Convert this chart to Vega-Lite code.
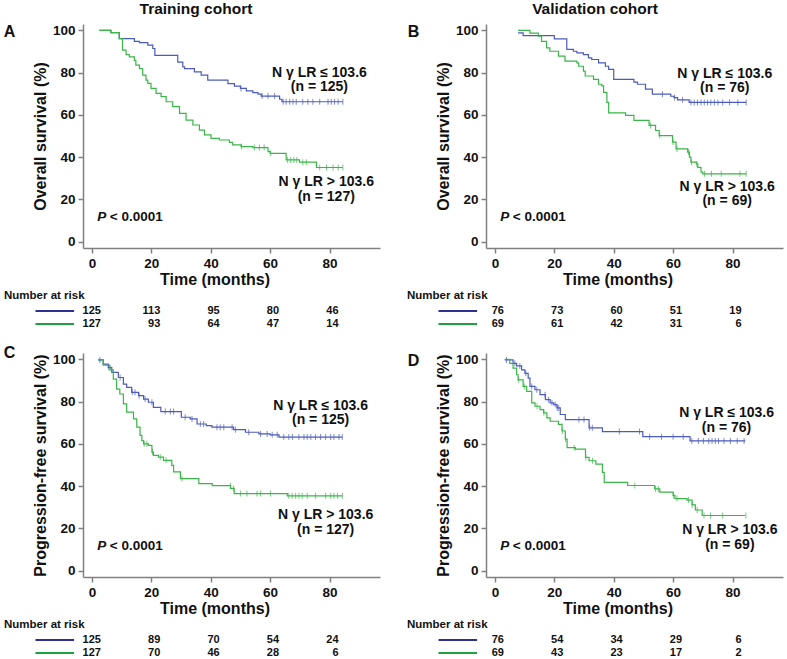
{
"$schema": "https://vega.github.io/schema/vega-lite/v6.json",
"padding": {"left": 3, "top": 1, "right": 5, "bottom": 2},
"background": "white",
"config": {
  "view": {"stroke": null},
  "font": "Liberation Sans",
  "axis": {"grid": false, "domainColor": "#808080", "tickColor": "#808080", "domainWidth": 1.5, "tickWidth": 1.5, "tickSize": 5, "labelFont": "Liberation Sans", "labelFontSize": 13.5, "labelFontWeight": "bold", "labelColor": "#111111", "labelPadding": 3, "titleFont": "Liberation Sans", "titleFontSize": 16, "titleFontWeight": "bold", "titleColor": "#111111", "titlePadding": 4},
  "text": {"font": "Liberation Sans", "fontWeight": "bold", "color": "#111111"},
  "title": {"font": "Liberation Sans", "fontWeight": "bold", "color": "#111111"}
},
"datasets": {
"curves": [
{"p":"A","g":"low","t":2.5,"s":100},{"p":"A","g":"low","t":6.4,"s":98.9},{"p":"A","g":"low","t":9.2,"s":96.1},{"p":"A","g":"low","t":14.3,"s":94.8},{"p":"A","g":"low","t":16,"s":94.2},{"p":"A","g":"low","t":18.8,"s":93},{"p":"A","g":"low","t":20.5,"s":91.4},{"p":"A","g":"low","t":21.2,"s":88.2},{"p":"A","g":"low","t":28.9,"s":85},{"p":"A","g":"low","t":30.6,"s":82.7},{"p":"A","g":"low","t":31.2,"s":81.9},{"p":"A","g":"low","t":34.5,"s":80.3},{"p":"A","g":"low","t":36.8,"s":78.8},{"p":"A","g":"low","t":39,"s":76.4},{"p":"A","g":"low","t":45.8,"s":74.8},{"p":"A","g":"low","t":48,"s":73.6},{"p":"A","g":"low","t":50,"s":72.5},{"p":"A","g":"low","t":52,"s":71.4},{"p":"A","g":"low","t":54.2,"s":70.5},{"p":"A","g":"low","t":55.9,"s":69.8},{"p":"A","g":"low","t":57,"s":68.9},{"p":"A","g":"low","t":63.2,"s":67.4},{"p":"A","g":"low","t":64,"s":66.2},{"p":"A","g":"low","t":84.5,"s":66.2},
{"p":"A","g":"high","t":2.5,"s":100},{"p":"A","g":"high","t":6.4,"s":98.9},{"p":"A","g":"high","t":9.2,"s":96.1},{"p":"A","g":"high","t":10.3,"s":90.6},{"p":"A","g":"high","t":11.5,"s":88.5},{"p":"A","g":"high","t":12.6,"s":87.4},{"p":"A","g":"high","t":14.3,"s":85.8},{"p":"A","g":"high","t":14.8,"s":83.5},{"p":"A","g":"high","t":16,"s":81.9},{"p":"A","g":"high","t":17.1,"s":78.8},{"p":"A","g":"high","t":18.2,"s":76.4},{"p":"A","g":"high","t":18.8,"s":74.9},{"p":"A","g":"high","t":19.9,"s":72.5},{"p":"A","g":"high","t":21.6,"s":70.2},{"p":"A","g":"high","t":23.3,"s":68.6},{"p":"A","g":"high","t":25,"s":66.2},{"p":"A","g":"high","t":27.2,"s":63.9},{"p":"A","g":"high","t":29.5,"s":60.7},{"p":"A","g":"high","t":31.7,"s":57.5},{"p":"A","g":"high","t":34,"s":55.2},{"p":"A","g":"high","t":36.2,"s":52.8},{"p":"A","g":"high","t":37.9,"s":50.5},{"p":"A","g":"high","t":40.1,"s":48.9},{"p":"A","g":"high","t":42.9,"s":48.1},{"p":"A","g":"high","t":46.3,"s":47},{"p":"A","g":"high","t":47.4,"s":45.8},{"p":"A","g":"high","t":50.2,"s":45},{"p":"A","g":"high","t":54.2,"s":44.5},{"p":"A","g":"high","t":59.3,"s":42.6},{"p":"A","g":"high","t":60,"s":41.8},{"p":"A","g":"high","t":65.4,"s":38.7},{"p":"A","g":"high","t":69.9,"s":37.6},{"p":"A","g":"high","t":75.6,"s":35.1},{"p":"A","g":"high","t":84.5,"s":35.1},
{"p":"B","g":"low","t":7.8,"s":98.8},{"p":"B","g":"low","t":9.5,"s":97.5},{"p":"B","g":"low","t":20,"s":96},{"p":"B","g":"low","t":24.2,"s":91},{"p":"B","g":"low","t":26.4,"s":90.1},{"p":"B","g":"low","t":27.6,"s":89.3},{"p":"B","g":"low","t":29.8,"s":88.5},{"p":"B","g":"low","t":31.5,"s":87},{"p":"B","g":"low","t":32.6,"s":86.2},{"p":"B","g":"low","t":34.9,"s":84.6},{"p":"B","g":"low","t":37.2,"s":83},{"p":"B","g":"low","t":38.3,"s":81.5},{"p":"B","g":"low","t":40,"s":76.8},{"p":"B","g":"low","t":46.8,"s":75.5},{"p":"B","g":"low","t":48,"s":74.5},{"p":"B","g":"low","t":50.7,"s":72.2},{"p":"B","g":"low","t":53,"s":69.8},{"p":"B","g":"low","t":59.2,"s":68.8},{"p":"B","g":"low","t":60.3,"s":68.2},{"p":"B","g":"low","t":61.5,"s":67.1},{"p":"B","g":"low","t":65.4,"s":65.9},{"p":"B","g":"low","t":84.6,"s":65.9},
{"p":"B","g":"high","t":7.8,"s":100},{"p":"B","g":"high","t":11.8,"s":98.7},{"p":"B","g":"high","t":14.6,"s":97.2},{"p":"B","g":"high","t":15.7,"s":94.8},{"p":"B","g":"high","t":17.4,"s":91.7},{"p":"B","g":"high","t":18.5,"s":90.1},{"p":"B","g":"high","t":21.4,"s":87.8},{"p":"B","g":"high","t":23.6,"s":85.4},{"p":"B","g":"high","t":27.6,"s":84.6},{"p":"B","g":"high","t":28.2,"s":83},{"p":"B","g":"high","t":29.8,"s":80.7},{"p":"B","g":"high","t":30.4,"s":78.4},{"p":"B","g":"high","t":33.2,"s":76.8},{"p":"B","g":"high","t":34.9,"s":74.5},{"p":"B","g":"high","t":36,"s":73.7},{"p":"B","g":"high","t":36.6,"s":70.6},{"p":"B","g":"high","t":37.7,"s":65.9},{"p":"B","g":"high","t":38.3,"s":60.9},{"p":"B","g":"high","t":44,"s":59.8},{"p":"B","g":"high","t":46.8,"s":57.4},{"p":"B","g":"high","t":51.9,"s":55},{"p":"B","g":"high","t":54.1,"s":52.6},{"p":"B","g":"high","t":55.3,"s":50.2},{"p":"B","g":"high","t":59.8,"s":47.1},{"p":"B","g":"high","t":61,"s":43.9},{"p":"B","g":"high","t":64.9,"s":42.4},{"p":"B","g":"high","t":65.5,"s":40},{"p":"B","g":"high","t":66,"s":37.6},{"p":"B","g":"high","t":67.8,"s":36.8},{"p":"B","g":"high","t":68.3,"s":35.2},{"p":"B","g":"high","t":69.4,"s":32.9},{"p":"B","g":"high","t":70,"s":32.1},{"p":"B","g":"high","t":84.6,"s":32.1},
{"p":"C","g":"low","t":2.1,"s":99.7},{"p":"C","g":"low","t":3.8,"s":97.7},{"p":"C","g":"low","t":5.5,"s":96.1},{"p":"C","g":"low","t":6.7,"s":93.8},{"p":"C","g":"low","t":8.9,"s":91.4},{"p":"C","g":"low","t":10.6,"s":88.3},{"p":"C","g":"low","t":11.7,"s":86.7},{"p":"C","g":"low","t":13.4,"s":84.4},{"p":"C","g":"low","t":15.7,"s":82.8},{"p":"C","g":"low","t":17.4,"s":81.2},{"p":"C","g":"low","t":19,"s":79.7},{"p":"C","g":"low","t":20.7,"s":77.3},{"p":"C","g":"low","t":23.2,"s":75.3},{"p":"C","g":"low","t":30.1,"s":72.6},{"p":"C","g":"low","t":33.1,"s":71.8},{"p":"C","g":"low","t":35.4,"s":69.4},{"p":"C","g":"low","t":38.5,"s":68.6},{"p":"C","g":"low","t":40.4,"s":67.9},{"p":"C","g":"low","t":47.7,"s":66.7},{"p":"C","g":"low","t":51.7,"s":65.5},{"p":"C","g":"low","t":56.2,"s":64.7},{"p":"C","g":"low","t":60,"s":64.3},{"p":"C","g":"low","t":63,"s":63.2},{"p":"C","g":"low","t":84.3,"s":63.2},
{"p":"C","g":"high","t":2.1,"s":99.7},{"p":"C","g":"high","t":3.8,"s":97.2},{"p":"C","g":"high","t":6.1,"s":95},{"p":"C","g":"high","t":7.2,"s":90.6},{"p":"C","g":"high","t":8.3,"s":85.9},{"p":"C","g":"high","t":9.4,"s":83.6},{"p":"C","g":"high","t":10.6,"s":78.9},{"p":"C","g":"high","t":11.7,"s":75},{"p":"C","g":"high","t":14,"s":71.8},{"p":"C","g":"high","t":15.1,"s":67.9},{"p":"C","g":"high","t":16.2,"s":64},{"p":"C","g":"high","t":16.8,"s":61.6},{"p":"C","g":"high","t":17.4,"s":60},{"p":"C","g":"high","t":19,"s":59.3},{"p":"C","g":"high","t":20.2,"s":56.1},{"p":"C","g":"high","t":20.7,"s":54.6},{"p":"C","g":"high","t":22.4,"s":53.7},{"p":"C","g":"high","t":24.1,"s":52.2},{"p":"C","g":"high","t":26.9,"s":49.8},{"p":"C","g":"high","t":27.5,"s":46.7},{"p":"C","g":"high","t":29.8,"s":43.6},{"p":"C","g":"high","t":36,"s":41.2},{"p":"C","g":"high","t":40.5,"s":40.2},{"p":"C","g":"high","t":46.7,"s":38.9},{"p":"C","g":"high","t":47.9,"s":36.5},{"p":"C","g":"high","t":65.8,"s":35.4},{"p":"C","g":"high","t":84.3,"s":35.4},
{"p":"D","g":"low","t":3.3,"s":99.7},{"p":"D","g":"low","t":6.1,"s":98.1},{"p":"D","g":"low","t":7.3,"s":96.9},{"p":"D","g":"low","t":9,"s":95},{"p":"D","g":"low","t":10.1,"s":93.4},{"p":"D","g":"low","t":11.2,"s":91.1},{"p":"D","g":"low","t":11.8,"s":87.2},{"p":"D","g":"low","t":13.5,"s":85.6},{"p":"D","g":"low","t":15.2,"s":83.3},{"p":"D","g":"low","t":17,"s":80.9},{"p":"D","g":"low","t":18.6,"s":79.4},{"p":"D","g":"low","t":19.8,"s":78.6},{"p":"D","g":"low","t":20.9,"s":77},{"p":"D","g":"low","t":22,"s":73.9},{"p":"D","g":"low","t":23.7,"s":71.5},{"p":"D","g":"low","t":31.7,"s":67.6},{"p":"D","g":"low","t":36.2,"s":65.8},{"p":"D","g":"low","t":49.8,"s":63.4},{"p":"D","g":"low","t":65.7,"s":61.4},{"p":"D","g":"low","t":84.3,"s":61.4},
{"p":"D","g":"high","t":3.3,"s":100},{"p":"D","g":"high","t":5,"s":98.1},{"p":"D","g":"high","t":6.1,"s":95.8},{"p":"D","g":"high","t":7.3,"s":92.7},{"p":"D","g":"high","t":7.8,"s":90.3},{"p":"D","g":"high","t":9.5,"s":87.2},{"p":"D","g":"high","t":10.7,"s":84.8},{"p":"D","g":"high","t":12.4,"s":79.4},{"p":"D","g":"high","t":13.5,"s":77.8},{"p":"D","g":"high","t":15.2,"s":76.2},{"p":"D","g":"high","t":16.4,"s":74.7},{"p":"D","g":"high","t":17.5,"s":72.3},{"p":"D","g":"high","t":18.6,"s":70.7},{"p":"D","g":"high","t":21.4,"s":69.2},{"p":"D","g":"high","t":22.6,"s":66.1},{"p":"D","g":"high","t":23.7,"s":62.2},{"p":"D","g":"high","t":24.3,"s":58.2},{"p":"D","g":"high","t":27.1,"s":57.5},{"p":"D","g":"high","t":30.5,"s":53.6},{"p":"D","g":"high","t":31.7,"s":52},{"p":"D","g":"high","t":34,"s":50.4},{"p":"D","g":"high","t":36.2,"s":46.5},{"p":"D","g":"high","t":36.8,"s":41.8},{"p":"D","g":"high","t":44.7,"s":40.3},{"p":"D","g":"high","t":53.8,"s":38.7},{"p":"D","g":"high","t":55.5,"s":37.2},{"p":"D","g":"high","t":60,"s":35.6},{"p":"D","g":"high","t":60.6,"s":34.1},{"p":"D","g":"high","t":64.7,"s":33.4},{"p":"D","g":"high","t":66.4,"s":31.1},{"p":"D","g":"high","t":67.5,"s":28.7},{"p":"D","g":"high","t":69.8,"s":26.1},{"p":"D","g":"high","t":84.3,"s":26.1}
],
"censor": [
{"p":"A","g":"low","t":50.2,"s":72.5},{"p":"A","g":"low","t":57.3,"s":68.9},{"p":"A","g":"low","t":59.3,"s":68.9},{"p":"A","g":"low","t":61.5,"s":68.9},{"p":"A","g":"low","t":64.4,"s":66.2},{"p":"A","g":"low","t":65.4,"s":66.2},{"p":"A","g":"low","t":66.6,"s":66.2},{"p":"A","g":"low","t":67.7,"s":66.2},{"p":"A","g":"low","t":68.8,"s":66.2},{"p":"A","g":"low","t":71,"s":66.2},{"p":"A","g":"low","t":72.7,"s":66.2},{"p":"A","g":"low","t":74.4,"s":66.2},{"p":"A","g":"low","t":76.7,"s":66.2},{"p":"A","g":"low","t":79.5,"s":66.2},{"p":"A","g":"low","t":80.6,"s":66.2},{"p":"A","g":"low","t":81.7,"s":66.2},{"p":"A","g":"low","t":82.9,"s":66.2},{"p":"A","g":"low","t":84.5,"s":66.2},
{"p":"A","g":"high","t":50.4,"s":45},{"p":"A","g":"high","t":54.7,"s":44.5},{"p":"A","g":"high","t":56.4,"s":44.5},{"p":"A","g":"high","t":58,"s":44.5},{"p":"A","g":"high","t":60.2,"s":41.8},{"p":"A","g":"high","t":65.9,"s":38.7},{"p":"A","g":"high","t":66.9,"s":38.7},{"p":"A","g":"high","t":68,"s":38.7},{"p":"A","g":"high","t":69,"s":38.7},{"p":"A","g":"high","t":71,"s":37.6},{"p":"A","g":"high","t":72.2,"s":37.6},{"p":"A","g":"high","t":76.7,"s":35.1},{"p":"A","g":"high","t":79,"s":35.1},{"p":"A","g":"high","t":81.2,"s":35.1},{"p":"A","g":"high","t":82.9,"s":35.1},{"p":"A","g":"high","t":84.5,"s":35.1},
{"p":"B","g":"low","t":56.4,"s":69.8},{"p":"B","g":"low","t":60.5,"s":68.2},{"p":"B","g":"low","t":63.2,"s":67.1},{"p":"B","g":"low","t":66,"s":65.9},{"p":"B","g":"low","t":67.1,"s":65.9},{"p":"B","g":"low","t":68.2,"s":65.9},{"p":"B","g":"low","t":69.4,"s":65.9},{"p":"B","g":"low","t":70.5,"s":65.9},{"p":"B","g":"low","t":71.6,"s":65.9},{"p":"B","g":"low","t":72.7,"s":65.9},{"p":"B","g":"low","t":73.9,"s":65.9},{"p":"B","g":"low","t":75.1,"s":65.9},{"p":"B","g":"low","t":76.7,"s":65.9},{"p":"B","g":"low","t":79,"s":65.9},{"p":"B","g":"low","t":81.8,"s":65.9},{"p":"B","g":"low","t":84.6,"s":65.9},
{"p":"B","g":"high","t":52.4,"s":55},{"p":"B","g":"high","t":55.5,"s":50.2},{"p":"B","g":"high","t":60,"s":47.1},{"p":"B","g":"high","t":61.3,"s":43.9},{"p":"B","g":"high","t":65.2,"s":42.4},{"p":"B","g":"high","t":66.2,"s":37.6},{"p":"B","g":"high","t":68,"s":36.8},{"p":"B","g":"high","t":70.6,"s":32.1},{"p":"B","g":"high","t":72.9,"s":32.1},{"p":"B","g":"high","t":76.2,"s":32.1},{"p":"B","g":"high","t":82.5,"s":32.1},{"p":"B","g":"high","t":84.6,"s":32.1},
{"p":"C","g":"low","t":2.7,"s":99.7},{"p":"C","g":"low","t":5.7,"s":96.1},{"p":"C","g":"low","t":9.5,"s":91.4},{"p":"C","g":"low","t":13.6,"s":84.4},{"p":"C","g":"low","t":14.5,"s":84.4},{"p":"C","g":"low","t":15.9,"s":82.8},{"p":"C","g":"low","t":17.9,"s":81.2},{"p":"C","g":"low","t":20.2,"s":79.7},{"p":"C","g":"low","t":24.7,"s":75.3},{"p":"C","g":"low","t":26.4,"s":75.3},{"p":"C","g":"low","t":27.5,"s":75.3},{"p":"C","g":"low","t":31.4,"s":72.6},{"p":"C","g":"low","t":33.7,"s":71.8},{"p":"C","g":"low","t":36.5,"s":69.4},{"p":"C","g":"low","t":37.6,"s":69.4},{"p":"C","g":"low","t":42.1,"s":67.9},{"p":"C","g":"low","t":43.2,"s":67.9},{"p":"C","g":"low","t":44.4,"s":67.9},{"p":"C","g":"low","t":47.2,"s":67.9},{"p":"C","g":"low","t":48.3,"s":66.7},{"p":"C","g":"low","t":52.8,"s":65.5},{"p":"C","g":"low","t":56.8,"s":64.7},{"p":"C","g":"low","t":59,"s":64.7},{"p":"C","g":"low","t":60.7,"s":64.3},{"p":"C","g":"low","t":62.4,"s":64.3},{"p":"C","g":"low","t":64.6,"s":63.2},{"p":"C","g":"low","t":66.3,"s":63.2},{"p":"C","g":"low","t":67.5,"s":63.2},{"p":"C","g":"low","t":69.7,"s":63.2},{"p":"C","g":"low","t":71.4,"s":63.2},{"p":"C","g":"low","t":72.5,"s":63.2},{"p":"C","g":"low","t":73.7,"s":63.2},{"p":"C","g":"low","t":75.3,"s":63.2},{"p":"C","g":"low","t":77,"s":63.2},{"p":"C","g":"low","t":78.7,"s":63.2},{"p":"C","g":"low","t":80.4,"s":63.2},{"p":"C","g":"low","t":81.5,"s":63.2},{"p":"C","g":"low","t":83.2,"s":63.2},{"p":"C","g":"low","t":84.3,"s":63.2},
{"p":"C","g":"high","t":17.6,"s":60},{"p":"C","g":"high","t":18.5,"s":60},{"p":"C","g":"high","t":20.4,"s":56.1},{"p":"C","g":"high","t":23,"s":53.7},{"p":"C","g":"high","t":25,"s":52.2},{"p":"C","g":"high","t":30.3,"s":43.6},{"p":"C","g":"high","t":46.6,"s":40.2},{"p":"C","g":"high","t":47.7,"s":38.9},{"p":"C","g":"high","t":50,"s":36.5},{"p":"C","g":"high","t":52.2,"s":36.5},{"p":"C","g":"high","t":55.6,"s":36.5},{"p":"C","g":"high","t":56.8,"s":36.5},{"p":"C","g":"high","t":60.1,"s":36.5},{"p":"C","g":"high","t":66.3,"s":35.4},{"p":"C","g":"high","t":67.4,"s":35.4},{"p":"C","g":"high","t":68.6,"s":35.4},{"p":"C","g":"high","t":69.7,"s":35.4},{"p":"C","g":"high","t":70.8,"s":35.4},{"p":"C","g":"high","t":72.5,"s":35.4},{"p":"C","g":"high","t":75.3,"s":35.4},{"p":"C","g":"high","t":78.7,"s":35.4},{"p":"C","g":"high","t":80.4,"s":35.4},{"p":"C","g":"high","t":81.5,"s":35.4},{"p":"C","g":"high","t":82.7,"s":35.4},{"p":"C","g":"high","t":84.3,"s":35.4},
{"p":"D","g":"low","t":3.9,"s":99.7},{"p":"D","g":"low","t":6.7,"s":98.1},{"p":"D","g":"low","t":8.4,"s":96.9},{"p":"D","g":"low","t":10.4,"s":93.4},{"p":"D","g":"low","t":12.4,"s":87.2},{"p":"D","g":"low","t":14.1,"s":85.6},{"p":"D","g":"low","t":16.9,"s":83.3},{"p":"D","g":"low","t":18,"s":80.9},{"p":"D","g":"low","t":19.2,"s":79.4},{"p":"D","g":"low","t":20.3,"s":78.6},{"p":"D","g":"low","t":21,"s":77},{"p":"D","g":"low","t":21.5,"s":77},{"p":"D","g":"low","t":28.3,"s":71.5},{"p":"D","g":"low","t":30,"s":71.5},{"p":"D","g":"low","t":31.9,"s":67.6},{"p":"D","g":"low","t":32.8,"s":67.6},{"p":"D","g":"low","t":41.9,"s":65.8},{"p":"D","g":"low","t":48.7,"s":65.8},{"p":"D","g":"low","t":52.1,"s":63.4},{"p":"D","g":"low","t":56.1,"s":63.4},{"p":"D","g":"low","t":60,"s":63.4},{"p":"D","g":"low","t":63.4,"s":63.4},{"p":"D","g":"low","t":66.3,"s":61.4},{"p":"D","g":"low","t":68.5,"s":61.4},{"p":"D","g":"low","t":70.2,"s":61.4},{"p":"D","g":"low","t":72,"s":61.4},{"p":"D","g":"low","t":73.1,"s":61.4},{"p":"D","g":"low","t":74.2,"s":61.4},{"p":"D","g":"low","t":75.3,"s":61.4},{"p":"D","g":"low","t":77.1,"s":61.4},{"p":"D","g":"low","t":79.3,"s":61.4},{"p":"D","g":"low","t":81.6,"s":61.4},{"p":"D","g":"low","t":83.9,"s":61.4},
{"p":"D","g":"high","t":8,"s":90.3},{"p":"D","g":"high","t":9.9,"s":87.2},{"p":"D","g":"high","t":14.2,"s":77.8},{"p":"D","g":"high","t":16.5,"s":74.7},{"p":"D","g":"high","t":22.7,"s":66.1},{"p":"D","g":"high","t":23.8,"s":62.2},{"p":"D","g":"high","t":26.7,"s":58.2},{"p":"D","g":"high","t":30.6,"s":53.6},{"p":"D","g":"high","t":32.9,"s":52},{"p":"D","g":"high","t":47.1,"s":40.3},{"p":"D","g":"high","t":54.1,"s":38.7},{"p":"D","g":"high","t":55,"s":38.7},{"p":"D","g":"high","t":60.1,"s":35.6},{"p":"D","g":"high","t":61.3,"s":34.1},{"p":"D","g":"high","t":65.2,"s":33.4},{"p":"D","g":"high","t":66.4,"s":31.1},{"p":"D","g":"high","t":68.1,"s":28.7},{"p":"D","g":"high","t":70.4,"s":26.1},{"p":"D","g":"high","t":72.6,"s":26.1},{"p":"D","g":"high","t":76.6,"s":26.1},{"p":"D","g":"high","t":84.5,"s":26.1}
],
"risk": [
{"p":"A","g":"low","t":0,"n":125},{"p":"A","g":"low","t":20,"n":113},{"p":"A","g":"low","t":40,"n":95},{"p":"A","g":"low","t":60,"n":80},{"p":"A","g":"low","t":80,"n":46},
{"p":"A","g":"high","t":0,"n":127},{"p":"A","g":"high","t":20,"n":93},{"p":"A","g":"high","t":40,"n":64},{"p":"A","g":"high","t":60,"n":47},{"p":"A","g":"high","t":80,"n":14},
{"p":"B","g":"low","t":0,"n":76},{"p":"B","g":"low","t":20,"n":73},{"p":"B","g":"low","t":40,"n":60},{"p":"B","g":"low","t":60,"n":51},{"p":"B","g":"low","t":80,"n":19},
{"p":"B","g":"high","t":0,"n":69},{"p":"B","g":"high","t":20,"n":61},{"p":"B","g":"high","t":40,"n":42},{"p":"B","g":"high","t":60,"n":31},{"p":"B","g":"high","t":80,"n":6},
{"p":"C","g":"low","t":0,"n":125},{"p":"C","g":"low","t":20,"n":89},{"p":"C","g":"low","t":40,"n":70},{"p":"C","g":"low","t":60,"n":54},{"p":"C","g":"low","t":80,"n":24},
{"p":"C","g":"high","t":0,"n":127},{"p":"C","g":"high","t":20,"n":70},{"p":"C","g":"high","t":40,"n":46},{"p":"C","g":"high","t":60,"n":28},{"p":"C","g":"high","t":80,"n":6},
{"p":"D","g":"low","t":0,"n":76},{"p":"D","g":"low","t":20,"n":54},{"p":"D","g":"low","t":40,"n":34},{"p":"D","g":"low","t":60,"n":29},{"p":"D","g":"low","t":80,"n":6},
{"p":"D","g":"high","t":0,"n":69},{"p":"D","g":"high","t":20,"n":43},{"p":"D","g":"high","t":40,"n":23},{"p":"D","g":"high","t":60,"n":17},{"p":"D","g":"high","t":80,"n":2}
]
},
"spacing": 14,
"vconcat": [
{"hconcat": [
 {"title": {"text": "Training cohort", "fontSize": 15.5, "offset": 6, "anchor": "middle", "dx": 4},
  "bounds": "flush", "spacing": 56.5,
  "resolve": {"scale": {"color": "independent"}},
  "vconcat": [
   {"width": 297, "height": 224,
    "layer": [
     {"data": {"name": "curves"}, "transform": [{"filter": "datum.p == 'A'"}],
      "mark": {"type": "line", "interpolate": "step-after", "strokeWidth": 1.2},
      "encoding": {
       "x": {"field": "t", "type": "quantitative", "scale": {"domain": [-3, 97], "nice": false, "zero": false}, "axis": {"values": [0, 20, 40, 60, 80], "title": "Time (months)", "titleX": 131.5, "titleY": 23}},
       "y": {"field": "s", "type": "quantitative", "scale": {"domain": [-3, 103], "nice": false, "zero": false}, "axis": {"values": [0, 20, 40, 60, 80, 100], "title": "Overall survival (%)"}},
       "color": {"field": "g", "type": "nominal", "scale": {"domain": ["low", "high"], "range": ["#4b5bbd", "#3bb54a"]}, "legend": null}}},
     {"data": {"name": "censor"}, "transform": [{"filter": "datum.p == 'A'"}],
      "mark": {"type": "tick", "orient": "vertical", "size": 6, "thickness": 1},
      "encoding": {"x": {"field": "t", "type": "quantitative"}, "y": {"field": "s", "type": "quantitative"}, "color": {"field": "g", "type": "nominal", "legend": null}}},
     {"data": {"values": [{}]}, "mark": {"type": "text", "text": "A", "fontSize": 16, "align": "center", "baseline": "middle"},
      "encoding": {"x": {"datum": -27.7, "type": "quantitative"}, "y": {"datum": 99, "type": "quantitative"}}},
     {"data": {"values": [{}]}, "mark": {"type": "text", "text": ["N γ LR ≤ 103.6", "(n = 125)"], "fontSize": 14, "lineHeight": 14.5, "align": "center", "baseline": "middle"},
      "encoding": {"x": {"datum": 76.6, "type": "quantitative"}, "y": {"datum": 79.9, "type": "quantitative"}}},
     {"data": {"values": [{}]}, "mark": {"type": "text", "text": ["N γ LR > 103.6", "(n = 127)"], "fontSize": 14, "lineHeight": 14.5, "align": "center", "baseline": "middle"},
      "encoding": {"x": {"datum": 78.9, "type": "quantitative"}, "y": {"datum": 28, "type": "quantitative"}}},
     {"data": {"values": [{}]}, "mark": {"type": "text", "text": "P", "fontStyle": "italic", "fontSize": 13.5, "align": "left", "baseline": "middle"},
      "encoding": {"x": {"datum": 1.8, "type": "quantitative"}, "y": {"datum": 11.8, "type": "quantitative"}}},
     {"data": {"values": [{}]}, "mark": {"type": "text", "text": "< 0.0001", "fontSize": 13.5, "align": "left", "baseline": "middle", "dx": 12.5},
      "encoding": {"x": {"datum": 1.8, "type": "quantitative"}, "y": {"datum": 11.8, "type": "quantitative"}}}
    ]},
   {"width": 297, "height": 26,
    "title": {"text": "Number at risk", "anchor": "start", "frame": "group", "dx": -79, "dy": 11, "fontSize": 11.5, "offset": 5, "baseline": "alphabetic"},
    "data": {"name": "risk"}, "transform": [{"filter": "datum.p == 'A'"}],
    "layer": [
     {"mark": {"type": "text", "align": "right", "dx": 9, "fontSize": 11, "baseline": "middle"},
      "encoding": {"x": {"field": "t", "type": "quantitative", "scale": {"domain": [-3, 97], "nice": false, "zero": false}, "axis": null},
       "y": {"field": "g", "type": "nominal", "scale": {"type": "point", "domain": ["low", "high"], "padding": 0.5}, "axis": null},
       "text": {"field": "n", "type": "nominal"}}},
     {"transform": [{"filter": "datum.t == 0"}], "mark": {"type": "rule", "strokeWidth": 2},
      "encoding": {"x": {"datum": -19, "type": "quantitative"}, "x2": {"datum": -6}, "y": {"field": "g", "type": "nominal"},
       "color": {"field": "g", "type": "nominal", "scale": {"domain": ["low", "high"], "range": ["#2e3192", "#20a040"]}, "legend": null}}}
    ]}
  ]},
 {"title": {"text": "Validation cohort", "fontSize": 15.5, "offset": 6, "anchor": "middle"},
  "bounds": "flush", "spacing": 56.5,
  "resolve": {"scale": {"color": "independent"}},
  "vconcat": [
   {"width": 297, "height": 224,
    "layer": [
     {"data": {"name": "curves"}, "transform": [{"filter": "datum.p == 'B'"}],
      "mark": {"type": "line", "interpolate": "step-after", "strokeWidth": 1.2},
      "encoding": {
       "x": {"field": "t", "type": "quantitative", "scale": {"domain": [-3, 97], "nice": false, "zero": false}, "axis": {"values": [0, 20, 40, 60, 80], "title": "Time (months)", "titleX": 131.5, "titleY": 23}},
       "y": {"field": "s", "type": "quantitative", "scale": {"domain": [-3, 103], "nice": false, "zero": false}, "axis": {"values": [0, 20, 40, 60, 80, 100], "title": "Overall survival (%)"}},
       "color": {"field": "g", "type": "nominal", "scale": {"domain": ["low", "high"], "range": ["#4b5bbd", "#3bb54a"]}, "legend": null}}},
     {"data": {"name": "censor"}, "transform": [{"filter": "datum.p == 'B'"}],
      "mark": {"type": "tick", "orient": "vertical", "size": 6, "thickness": 1},
      "encoding": {"x": {"field": "t", "type": "quantitative"}, "y": {"field": "s", "type": "quantitative"}, "color": {"field": "g", "type": "nominal", "legend": null}}},
     {"data": {"values": [{}]}, "mark": {"type": "text", "text": "B", "fontSize": 16, "align": "center", "baseline": "middle"},
      "encoding": {"x": {"datum": -27.4, "type": "quantitative"}, "y": {"datum": 99, "type": "quantitative"}}},
     {"data": {"values": [{}]}, "mark": {"type": "text", "text": ["N γ LR ≤ 103.6", "(n = 76)"], "fontSize": 14, "lineHeight": 14.5, "align": "center", "baseline": "middle"},
      "encoding": {"x": {"datum": 77.4, "type": "quantitative"}, "y": {"datum": 79.5, "type": "quantitative"}}},
     {"data": {"values": [{}]}, "mark": {"type": "text", "text": ["N γ LR > 103.6", "(n = 69)"], "fontSize": 14, "lineHeight": 14.5, "align": "center", "baseline": "middle"},
      "encoding": {"x": {"datum": 78.2, "type": "quantitative"}, "y": {"datum": 26, "type": "quantitative"}}},
     {"data": {"values": [{}]}, "mark": {"type": "text", "text": "P", "fontStyle": "italic", "fontSize": 13.5, "align": "left", "baseline": "middle"},
      "encoding": {"x": {"datum": 1.8, "type": "quantitative"}, "y": {"datum": 11.8, "type": "quantitative"}}},
     {"data": {"values": [{}]}, "mark": {"type": "text", "text": "< 0.0001", "fontSize": 13.5, "align": "left", "baseline": "middle", "dx": 12.5},
      "encoding": {"x": {"datum": 1.8, "type": "quantitative"}, "y": {"datum": 11.8, "type": "quantitative"}}}
    ]},
   {"width": 297, "height": 26,
    "title": {"text": "Number at risk", "anchor": "start", "frame": "group", "dx": -79, "dy": 11, "fontSize": 11.5, "offset": 5, "baseline": "alphabetic"},
    "data": {"name": "risk"}, "transform": [{"filter": "datum.p == 'B'"}],
    "layer": [
     {"mark": {"type": "text", "align": "right", "dx": 9, "fontSize": 11, "baseline": "middle"},
      "encoding": {"x": {"field": "t", "type": "quantitative", "scale": {"domain": [-3, 97], "nice": false, "zero": false}, "axis": null},
       "y": {"field": "g", "type": "nominal", "scale": {"type": "point", "domain": ["low", "high"], "padding": 0.5}, "axis": null},
       "text": {"field": "n", "type": "nominal"}}},
     {"transform": [{"filter": "datum.t == 0"}], "mark": {"type": "rule", "strokeWidth": 2},
      "encoding": {"x": {"datum": -19, "type": "quantitative"}, "x2": {"datum": -6}, "y": {"field": "g", "type": "nominal"},
       "color": {"field": "g", "type": "nominal", "scale": {"domain": ["low", "high"], "range": ["#2e3192", "#20a040"]}, "legend": null}}}
    ]}
  ]}
], "spacing": 27},
{"hconcat": [
 {"bounds": "flush", "spacing": 56.5,
  "resolve": {"scale": {"color": "independent"}},
  "vconcat": [
   {"width": 297, "height": 224,
    "layer": [
     {"data": {"name": "curves"}, "transform": [{"filter": "datum.p == 'C'"}],
      "mark": {"type": "line", "interpolate": "step-after", "strokeWidth": 1.2},
      "encoding": {
       "x": {"field": "t", "type": "quantitative", "scale": {"domain": [-3, 97], "nice": false, "zero": false}, "axis": {"values": [0, 20, 40, 60, 80], "title": "Time (months)", "titleX": 131.5, "titleY": 23}},
       "y": {"field": "s", "type": "quantitative", "scale": {"domain": [-3, 103], "nice": false, "zero": false}, "axis": {"values": [0, 20, 40, 60, 80, 100], "title": "Progression-free survival (%)"}},
       "color": {"field": "g", "type": "nominal", "scale": {"domain": ["low", "high"], "range": ["#4b5bbd", "#3bb54a"]}, "legend": null}}},
     {"data": {"name": "censor"}, "transform": [{"filter": "datum.p == 'C'"}],
      "mark": {"type": "tick", "orient": "vertical", "size": 6, "thickness": 1},
      "encoding": {"x": {"field": "t", "type": "quantitative"}, "y": {"field": "s", "type": "quantitative"}, "color": {"field": "g", "type": "nominal", "legend": null}}},
     {"data": {"values": [{}]}, "mark": {"type": "text", "text": "C", "fontSize": 16, "align": "center", "baseline": "middle"},
      "encoding": {"x": {"datum": -27.7, "type": "quantitative"}, "y": {"datum": 103, "type": "quantitative"}}},
     {"data": {"values": [{}]}, "mark": {"type": "text", "text": ["N γ LR ≤ 103.6", "(n = 125)"], "fontSize": 14, "lineHeight": 14.5, "align": "center", "baseline": "middle"},
      "encoding": {"x": {"datum": 77, "type": "quantitative"}, "y": {"datum": 78.1, "type": "quantitative"}}},
     {"data": {"values": [{}]}, "mark": {"type": "text", "text": ["N γ LR > 103.6", "(n = 127)"], "fontSize": 14, "lineHeight": 14.5, "align": "center", "baseline": "middle"},
      "encoding": {"x": {"datum": 78.7, "type": "quantitative"}, "y": {"datum": 26.3, "type": "quantitative"}}},
     {"data": {"values": [{}]}, "mark": {"type": "text", "text": "P", "fontStyle": "italic", "fontSize": 13.5, "align": "left", "baseline": "middle"},
      "encoding": {"x": {"datum": 1.8, "type": "quantitative"}, "y": {"datum": 11.8, "type": "quantitative"}}},
     {"data": {"values": [{}]}, "mark": {"type": "text", "text": "< 0.0001", "fontSize": 13.5, "align": "left", "baseline": "middle", "dx": 12.5},
      "encoding": {"x": {"datum": 1.8, "type": "quantitative"}, "y": {"datum": 11.8, "type": "quantitative"}}}
    ]},
   {"width": 297, "height": 26,
    "title": {"text": "Number at risk", "anchor": "start", "frame": "group", "dx": -79, "dy": 11, "fontSize": 11.5, "offset": 5, "baseline": "alphabetic"},
    "data": {"name": "risk"}, "transform": [{"filter": "datum.p == 'C'"}],
    "layer": [
     {"mark": {"type": "text", "align": "right", "dx": 9, "fontSize": 11, "baseline": "middle"},
      "encoding": {"x": {"field": "t", "type": "quantitative", "scale": {"domain": [-3, 97], "nice": false, "zero": false}, "axis": null},
       "y": {"field": "g", "type": "nominal", "scale": {"type": "point", "domain": ["low", "high"], "padding": 0.5}, "axis": null},
       "text": {"field": "n", "type": "nominal"}}},
     {"transform": [{"filter": "datum.t == 0"}], "mark": {"type": "rule", "strokeWidth": 2},
      "encoding": {"x": {"datum": -19, "type": "quantitative"}, "x2": {"datum": -6}, "y": {"field": "g", "type": "nominal"},
       "color": {"field": "g", "type": "nominal", "scale": {"domain": ["low", "high"], "range": ["#2e3192", "#20a040"]}, "legend": null}}}
    ]}
  ]},
 {"bounds": "flush", "spacing": 56.5,
  "resolve": {"scale": {"color": "independent"}},
  "vconcat": [
   {"width": 297, "height": 224,
    "layer": [
     {"data": {"name": "curves"}, "transform": [{"filter": "datum.p == 'D'"}],
      "mark": {"type": "line", "interpolate": "step-after", "strokeWidth": 1.2},
      "encoding": {
       "x": {"field": "t", "type": "quantitative", "scale": {"domain": [-3, 97], "nice": false, "zero": false}, "axis": {"values": [0, 20, 40, 60, 80], "title": "Time (months)", "titleX": 131.5, "titleY": 23}},
       "y": {"field": "s", "type": "quantitative", "scale": {"domain": [-3, 103], "nice": false, "zero": false}, "axis": {"values": [0, 20, 40, 60, 80, 100], "title": "Progression-free survival (%)"}},
       "color": {"field": "g", "type": "nominal", "scale": {"domain": ["low", "high"], "range": ["#4b5bbd", "#3bb54a"]}, "legend": null}}},
     {"data": {"name": "censor"}, "transform": [{"filter": "datum.p == 'D'"}],
      "mark": {"type": "tick", "orient": "vertical", "size": 6, "thickness": 1},
      "encoding": {"x": {"field": "t", "type": "quantitative"}, "y": {"field": "s", "type": "quantitative"}, "color": {"field": "g", "type": "nominal", "legend": null}}},
     {"data": {"values": [{}]}, "mark": {"type": "text", "text": "D", "fontSize": 16, "align": "center", "baseline": "middle"},
      "encoding": {"x": {"datum": -27.4, "type": "quantitative"}, "y": {"datum": 99, "type": "quantitative"}}},
     {"data": {"values": [{}]}, "mark": {"type": "text", "text": ["N γ LR ≤ 103.6", "(n = 76)"], "fontSize": 14, "lineHeight": 14.5, "align": "center", "baseline": "middle"},
      "encoding": {"x": {"datum": 78, "type": "quantitative"}, "y": {"datum": 74.4, "type": "quantitative"}}},
     {"data": {"values": [{}]}, "mark": {"type": "text", "text": ["N γ LR > 103.6", "(n = 69)"], "fontSize": 14, "lineHeight": 14.5, "align": "center", "baseline": "middle"},
      "encoding": {"x": {"datum": 79.1, "type": "quantitative"}, "y": {"datum": 19.2, "type": "quantitative"}}},
     {"data": {"values": [{}]}, "mark": {"type": "text", "text": "P", "fontStyle": "italic", "fontSize": 13.5, "align": "left", "baseline": "middle"},
      "encoding": {"x": {"datum": 1.8, "type": "quantitative"}, "y": {"datum": 11.8, "type": "quantitative"}}},
     {"data": {"values": [{}]}, "mark": {"type": "text", "text": "< 0.0001", "fontSize": 13.5, "align": "left", "baseline": "middle", "dx": 12.5},
      "encoding": {"x": {"datum": 1.8, "type": "quantitative"}, "y": {"datum": 11.8, "type": "quantitative"}}}
    ]},
   {"width": 297, "height": 26,
    "title": {"text": "Number at risk", "anchor": "start", "frame": "group", "dx": -79, "dy": 11, "fontSize": 11.5, "offset": 5, "baseline": "alphabetic"},
    "data": {"name": "risk"}, "transform": [{"filter": "datum.p == 'D'"}],
    "layer": [
     {"mark": {"type": "text", "align": "right", "dx": 9, "fontSize": 11, "baseline": "middle"},
      "encoding": {"x": {"field": "t", "type": "quantitative", "scale": {"domain": [-3, 97], "nice": false, "zero": false}, "axis": null},
       "y": {"field": "g", "type": "nominal", "scale": {"type": "point", "domain": ["low", "high"], "padding": 0.5}, "axis": null},
       "text": {"field": "n", "type": "nominal"}}},
     {"transform": [{"filter": "datum.t == 0"}], "mark": {"type": "rule", "strokeWidth": 2},
      "encoding": {"x": {"datum": -19, "type": "quantitative"}, "x2": {"datum": -6}, "y": {"field": "g", "type": "nominal"},
       "color": {"field": "g", "type": "nominal", "scale": {"domain": ["low", "high"], "range": ["#2e3192", "#20a040"]}, "legend": null}}}
    ]}
  ]}
], "spacing": 27}
]
}
